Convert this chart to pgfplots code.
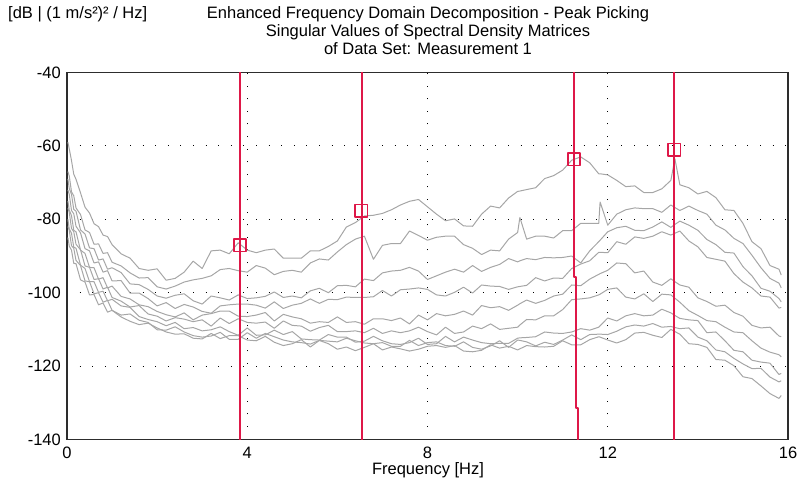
\documentclass[border=0pt]{standalone}
\usepackage{fontspec}
\setmainfont{Liberation Sans}
\usepackage{pgfplots}
\usepackage{pgfplotstable}
\pgfplotsset{compat=1.18}

\definecolor{svgray}{RGB}{166,166,166}
\definecolor{peakred}{RGB}{222,24,72}
\definecolor{framegray}{RGB}{45,45,45}
\newcommand\ff{\fontsize{16.5}{19}\selectfont}

% singular values [dB] of the spectral density matrices
\pgfplotstableread{
f     c1     c2     c3     c4     c5     c6     c7     c8     c9
0.02  -59.0  -67.0  -69.0  -72.0  -75.0  -77.0  -80.0  -82.0  -85.0
0.05  -60.8  -68.2  -71.6  -73.2  -77.5  -78.1  -82.6  -83.0  -87.3
0.1   -64.0  -72.5  -73.2  -77.6  -79.0  -82.5  -83.8  -87.2  -88.4
0.15  -67.7  -73.6  -77.3  -78.5  -83.0  -83.4  -87.6  -87.9  -92.0
0.2   -69.1  -76.9  -77.8  -81.9  -83.4  -86.8  -87.9  -91.2  -92.1
0.3   -72.8  -78.7  -82.9  -83.7  -88.4  -88.3  -92.5  -92.6  -96.5
0.4   -76.7  -82.9  -84.0  -88.0  -89.3  -92.7  -93.4  -96.8  -97.1
0.5   -78.3  -83.6  -87.8  -88.6  -93.1  -93.1  -97.0  -97.0  -100.6
0.6   -81.2  -86.8  -88.0  -91.9  -93.2  -96.4  -97.0  -100.3 -100.5
0.7   -82.0  -86.7  -91.1  -91.6  -96.3  -96.2  -99.9  -100.0 -103.3
0.8   -84.3  -89.3  -90.8  -94.4  -95.9  -99.0  -99.6  -102.6 -102.8
0.9   -84.7  -89.1  -93.6  -94.0  -98.7  -98.5  -102.2 -102.1 -105.3
1.0   -86.9  -91.7  -93.2  -96.8  -98.2  -101.3 -101.8 -104.8 -104.8
1.2   -89.4  -92.7  -94.5  -96.7  -101.0 -102.3 -103.6 -106.1 -106.6
1.4   -90.6  -94.6  -97.6  -100.1 -101.7 -103.9 -104.0 -105.8 -107.8
1.6   -93.4  -96.0  -97.8  -100.1 -103.3 -103.5 -106.5 -107.5 -108.7
1.8   -93.9  -95.9  -99.1  -101.6 -103.8 -105.8 -107.3 -108.1 -108.3
2.0   -93.5  -98.4  -100.9 -103.6 -105.1 -106.4 -107.9 -110.1 -109.6
2.2   -96.6  -99.0  -101.5 -102.7 -106.0 -107.7 -109.0 -110.2 -110.7
2.4   -96.1  -98.2  -100.7 -104.3 -106.6 -106.8 -108.1 -109.3 -111.3
2.6   -94.4  -97.1  -100.3 -103.2 -105.5 -107.2 -109.8 -110.7 -111.2
2.8   -91.4  -96.5  -102.2 -103.9 -107.4 -107.9 -109.5 -111.7 -112.4
3.0   -93.4  -96.1  -103.1 -105.1 -106.1 -107.4 -110.4 -112.1 -112.6
3.2   -88.6  -95.4  -100.9 -105.6 -105.7 -109.1 -110.1 -111.8 -111.1
3.4   -88.4  -93.7  -101.4 -103.6 -105.0 -106.9 -109.3 -110.8 -112.5
3.6   -89.4  -93.4  -102.0 -103.3 -105.0 -108.4 -110.6 -112.7 -111.7
3.8   -86.4  -94.0  -100.6 -103.1 -106.4 -107.1 -111.6 -112.7 -111.7
4.0   -88.4  -94.4  -101.6 -103.1 -106.5 -108.1 -109.6 -110.9 -112.9
4.2   -89.1  -92.6  -101.4 -103.4 -106.1 -108.3 -111.6 -112.4 -113.1
4.4   -88.4  -93.3  -101.0 -104.2 -105.4 -108.0 -111.5 -111.1 -111.9
4.6   -88.1  -95.1  -99.8  -102.5 -107.7 -109.7 -110.2 -112.0 -113.5
4.8   -90.6  -94.2  -101.3 -104.3 -105.9 -107.7 -111.4 -112.9 -114.4
5.0   -90.6  -93.9  -100.9 -103.4 -106.6 -108.9 -110.6 -113.4 -113.9
5.2   -90.6  -94.4  -101.4 -102.9 -107.1 -109.1 -112.6 -113.6 -112.8
5.4   -88.6  -91.9  -99.5  -101.7 -108.3 -110.5 -112.8 -114.0 -114.8
5.6   -88.6  -90.8  -98.8  -102.9 -107.9 -109.5 -112.9 -113.0 -113.0
5.8   -87.4  -91.1  -100.0 -101.8 -108.1 -108.9 -111.4 -113.2 -113.9
6.0   -85.9  -88.9  -98.1  -101.9 -106.6 -110.6 -112.1 -113.4 -115.4
6.2   -82.1  -86.9  -98.0  -101.2 -108.1 -110.6 -112.1 -112.4 -114.8
6.4   -80.9  -85.4  -98.4  -101.3 -107.9 -110.4 -113.5 -113.1 -115.8
6.6   -79.1  -84.6  -96.3  -101.3 -108.6 -110.9 -113.2 -113.7 -114.9
6.8   -78.9  -90.9  -96.7  -101.1 -107.1 -109.7 -111.9 -113.9 -113.9
7.0   -78.4  -87.1  -94.6  -99.4  -107.1 -111.1 -113.1 -113.6 -115.6
7.2   -77.4  -86.6  -94.1  -100.9 -107.6 -110.4 -113.9 -114.6 -114.8
7.4   -76.1  -86.6  -93.9  -99.2  -106.9 -110.9 -114.1 -114.6 -115.3
7.6   -75.1  -83.2  -93.1  -99.0  -108.5 -110.4 -113.6 -113.0 -115.9
7.8   -74.6  -84.4  -94.1  -98.7  -106.1 -109.4 -112.4 -114.4 -115.4
8.0   -76.6  -85.7  -96.4  -99.1  -107.4 -110.6 -114.1 -113.6 -114.6
8.2   -78.6  -84.9  -95.4  -100.6 -105.7 -111.5 -113.9 -113.4 -114.4
8.4   -80.4  -84.6  -94.4  -100.9 -106.3 -109.4 -111.9 -114.4 -114.9
8.6   -79.9  -84.6  -93.6  -99.9  -105.9 -111.1 -113.4 -114.6 -114.4
8.8   -81.8  -86.9  -94.4  -98.5  -105.0 -110.7 -112.1 -113.4 -115.9
9.0   -81.9  -87.9  -92.6  -100.1 -106.1 -109.1 -112.9 -114.9 -116.1
9.2   -78.6  -89.6  -94.2  -97.9  -103.5 -109.8 -113.6 -115.4 -115.7
9.4   -76.4  -88.4  -93.1  -98.2  -104.1 -108.5 -113.9 -114.5 -114.2
9.6   -76.9  -88.6  -92.3  -98.3  -103.8 -110.0 -113.8 -113.1 -115.1
9.8   -74.2  -85.4  -90.7  -99.1  -104.8 -109.7 -113.8 -114.9 -114.6
10.0  -72.4  -83.6  -91.6  -98.4  -103.4 -109.4 -112.4 -112.9 -115.6
10.05 -72.3  -79.5  -91.3  -98.3  -103.0 -108.8 -112.3 -113.0 -115.3
10.2  -71.9  -85.4  -90.7  -98.0  -102.0 -107.3 -112.2 -113.4 -114.4
10.4  -71.4  -84.6  -91.0  -95.9  -102.9 -107.4 -112.0 -114.5 -114.7
10.6  -68.9  -84.6  -90.4  -96.8  -102.1 -106.3 -110.7 -113.5 -114.8
10.8  -68.1  -85.1  -90.5  -96.0  -100.9 -106.3 -111.0 -114.1 -114.6
11.0  -66.6  -83.1  -90.4  -96.1  -100.4 -104.6 -111.1 -112.9 -113.1
11.2  -63.9  -83.1  -90.0  -93.4  -97.9  -101.9 -110.7 -111.5 -114.2
11.4  -63.0  -81.1  -91.9  -92.2  -98.1  -101.7 -109.8 -112.8 -114.2
11.6  -64.6  -81.1  -88.6  -91.3  -96.3  -101.4 -110.2 -111.4 -112.8
11.8  -67.6  -81.1  -86.1  -89.0  -95.0  -100.6 -109.4 -111.3 -112.0
11.83 -67.6  -75.3  -85.7  -89.0  -94.8  -100.4 -109.0 -111.3 -112.1
12.0  -67.9  -81.6  -83.4  -89.1  -93.9  -99.1  -106.9 -111.4 -112.9
12.2  -69.4  -78.6  -82.3  -86.1  -91.9  -98.7  -107.7 -110.5 -113.7
12.4  -71.1  -77.4  -81.9  -86.8  -92.1  -101.2 -106.3 -109.3 -112.8
12.6  -70.9  -76.9  -83.0  -84.8  -94.6  -101.7 -105.7 -108.8 -111.0
12.8  -72.7  -77.1  -83.1  -85.2  -94.1  -100.3 -106.3 -109.1 -110.8
13.0  -72.7  -77.1  -82.1  -84.6  -97.1  -102.4 -106.1 -108.4 -111.6
13.2  -71.7  -78.1  -80.7  -83.4  -98.0  -100.4 -104.5 -109.4 -112.2
13.4  -69.4  -76.1  -82.2  -84.3  -96.2  -100.6 -105.5 -109.2 -110.0
13.49 -63.5  -76.8  -81.4  -83.8  -97.0  -101.5 -106.2 -109.5 -110.6
13.6  -70.6  -77.6  -80.5  -83.2  -97.9  -102.6 -107.0 -109.8 -111.3
13.8  -71.4  -76.4  -81.6  -85.9  -98.5  -104.9 -107.4 -109.6 -113.9
14.0  -73.1  -77.6  -83.0  -87.5  -101.4 -106.2 -107.6 -112.1 -114.1
14.2  -72.4  -78.6  -85.5  -90.4  -102.4 -107.6 -110.9 -113.1 -114.9
14.4  -74.1  -81.6  -86.9  -90.9  -103.7 -107.9 -110.7 -115.6 -118.2
14.6  -77.4  -82.9  -89.0  -91.4  -103.4 -109.4 -113.1 -116.1 -118.4
14.8  -77.6  -85.2  -89.2  -94.8  -105.4 -110.7 -115.7 -117.9 -119.9
15.0  -81.1  -86.6  -92.9  -97.1  -106.4 -110.9 -116.1 -119.4 -122.9
15.2  -86.1  -89.8  -95.4  -98.7  -108.9 -113.1 -118.4 -120.7 -123.4
15.4  -88.0  -93.2  -98.8  -100.9 -109.6 -115.1 -118.9 -120.6 -125.4
15.6  -92.6  -96.1  -99.6  -101.2 -109.4 -116.2 -119.2 -123.0 -127.5
15.8  -93.6  -97.4  -101.6 -104.2 -111.8 -116.9 -122.3 -124.3 -128.8
15.85 -95.2  -98.7  -102.5 -104.0 -112.0 -117.5 -122.0 -124.0 -128.0
}\svdata

\begin{document}
\begin{tikzpicture}[font=\ff]
\begin{axis}[
  name=ax,
  scale only axis,
  width=721pt, height=367pt,
  xmin=0, xmax=16, ymin=-140, ymax=-40,
  enlargelimits=false,
  xtick={0,4,8,12,16},
  xticklabels={0,4,8,12,16},
  ytick={-140,-120,-100,-80,-60,-40},
  yticklabels={-140,-120,-100,-80,-60,-40},
  major tick length=0pt,
  xticklabel style={font=\ff, inner sep=0pt, anchor=north, yshift=-7pt},
  yticklabel style={font=\ff, inner sep=0pt, anchor=east, xshift=-6pt},
  axis line style={framegray, line width=1.4pt},
  grid=major,
  grid style={black, line width=1pt, dash pattern=on 1pt off 11.6pt},
  every axis plot/.append style={line join=round},
  svline/.style={svgray, line width=1pt, mark=none},
  peak/.style={peakred, line width=2pt, mark=none},
  pick/.style={peakred, only marks, mark=square, mark size=6.2pt,
    mark options={solid, color=peakred, draw=peakred, line width=1.6pt, fill=none}},
]
\foreach \c in {c9,c8,c7,c6,c5,c4,c3,c2,c1}{
  \addplot[svline] table[x=f, y=\c] {\svdata};
}
\addplot[peak] coordinates {(3.84,-140) (3.84,-40)};
\addplot[peak] coordinates {(6.54,-140) (6.54,-40)};
\addplot[peak] coordinates {(11.25,-40) (11.25,-95.6) (11.29,-95.6) (11.29,-131.4) (11.33,-131.4) (11.33,-140)};
\addplot[peak] coordinates {(13.48,-140) (13.48,-40)};
% picked peaks
\addplot[pick] coordinates {(3.84,-87.1)};
\addplot[pick] coordinates {(6.53,-77.7)};
\addplot[pick] coordinates {(11.25,-63.6)};
\addplot[pick] coordinates {(13.48,-61.0)};
\end{axis}
\node[anchor=base, xshift=361pt, yshift=420.5pt] at (ax.south west)
  {Enhanced Frequency Domain Decomposition - Peak Picking};
\node[anchor=base, xshift=361pt, yshift=402.8pt] at (ax.south west)
  {Singular Values of Spectral Density Matrices};
\node[anchor=base, xshift=361pt, yshift=385.2pt] at (ax.south west)
  {of Data Set: Measurement 1};
\node[anchor=base west, inner sep=0pt, xshift=-59pt, yshift=420.5pt] at (ax.south west)
  {[dB | (1 m/s²)² / Hz]};
\node[anchor=base, inner sep=0pt, xshift=361pt, yshift=-35pt] at (ax.south west)
  {Frequency [Hz]};
\pgfresetboundingbox
\path[use as bounding box] ([shift={(-67pt,-47.5pt)}]ax.south west)
  rectangle ([shift={(730pt,439.5pt)}]ax.south west);
\end{tikzpicture}
\end{document}
